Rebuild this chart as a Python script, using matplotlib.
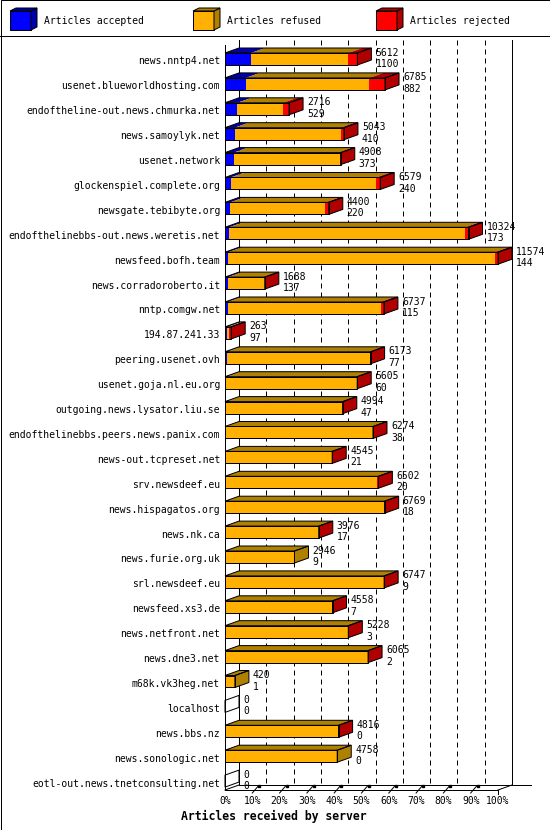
import numpy as np
import matplotlib
matplotlib.use("Agg")
import matplotlib.pyplot as plt
from matplotlib.patches import Polygon, Rectangle

# data
servers = ["news.nntp4.net", "usenet.blueworldhosting.com", "endoftheline-out.news.chmurka.net",
           "news.samoylyk.net", "usenet.network", "glockenspiel.complete.org",
           "newsgate.tebibyte.org", "endofthelinebbs-out.news.weretis.net", "newsfeed.bofh.team",
           "news.corradoroberto.it", "nntp.comgw.net", "194.87.241.33", "peering.usenet.ovh",
           "usenet.goja.nl.eu.org", "outgoing.news.lysator.liu.se",
           "endofthelinebbs.peers.news.panix.com", "news-out.tcpreset.net", "srv.newsdeef.eu",
           "news.hispagatos.org", "news.nk.ca", "news.furie.org.uk", "srl.newsdeef.eu",
           "newsfeed.xs3.de", "news.netfront.net", "news.dne3.net", "m68k.vk3heg.net",
           "localhost", "news.bbs.nz", "news.sonologic.net", "eotl-out.news.tnetconsulting.net"]
offered = [5612, 6785, 2716, 5043, 4908, 6579, 4400, 10324, 11574, 1688, 6737, 263, 6173,
           5605, 4994, 6274, 4545, 6502, 6769, 3976, 2946, 6747, 4558, 5228, 6065, 420, 0,
           4816, 4758, 0]
accepted = [1100, 882, 529, 410, 373, 240, 220, 173, 144, 137, 115, 97, 77, 60, 47, 38, 21,
            20, 18, 17, 9, 9, 7, 3, 2, 1, 0, 0, 0, 0]
rejected = [380, 660, 250, 140, 20, 170, 140, 140, 130, 10, 140, 96, 15, 15, 15, 10, 10, 60,
            10, 10, 0, 10, 5, 5, 5, 0, 0, 5, 0, 0]
refused = [o - a - r for o, a, r in zip(offered, accepted, rejected)]

series = ["Articles accepted", "Articles refused", "Articles rejected"]
front_colors = ["#0000FF", "#FFB000", "#FF0000"]
dark_colors = ["#0000AA", "#B08000", "#B00000"]
pct_ticks = list(range(0, 101, 10))

W, H = 550, 830
PX_PER_PCT = 2.73
ROW_PX = 24.9
ROW0_PX = 59
X0_PX = 225

fig = plt.figure(figsize=(W / 100, H / 100), dpi=100)
ax = fig.add_axes([0, 0, 1, 1])
ax.set_xlim(-X0_PX / PX_PER_PCT, (W - X0_PX) / PX_PER_PCT)
ax.set_ylim((H - ROW0_PX) / ROW_PX, -ROW0_PX / ROW_PX)
ax.axis("off")

lw = 0.72
font = dict(family="DejaVu Sans Mono", size=7, zorder=6)

dx = 14 / PX_PER_PCT       # depth offsets
dy = 5 / ROW_PX
bh = 12 / ROW_PX
front_axis = (790 - ROW0_PX) / ROW_PX
back_bottom = front_axis - dy
top_back = (40 - ROW0_PX) / ROW_PX
top_front = (45 - ROW0_PX) / ROW_PX

# back wall grid
for p in pct_ticks[1:-1]:
    ax.plot([p + dx, p + dx], [top_back, back_bottom], color="black", lw=lw,
            linestyle=(0, (5, 4)), zorder=1)
ax.plot([dx, dx], [top_back, back_bottom], color="black", lw=lw, zorder=1)
ax.plot([100 + dx, 100 + dx], [top_back, back_bottom], color="black", lw=lw, zorder=1)
ax.plot([0, 0], [top_front, front_axis], color="black", lw=lw, zorder=1)
ax.plot([dx, 112], [back_bottom, back_bottom], color="black", lw=lw, zorder=1)
ax.plot([0, 100], [front_axis, front_axis], color="black", lw=lw, zorder=1)
ax.plot([0, dx], [front_axis, back_bottom], color="black", lw=lw, zorder=1)
ax.plot([100, 100 + dx], [front_axis, back_bottom], color="black", lw=lw, zorder=1)

# ticks and tick labels
for p in pct_ticks:
    if 0 < p < 100:
        ax.plot([p, p + 6 / PX_PER_PCT], [front_axis + 3 / ROW_PX, back_bottom + 1 / ROW_PX],
                color="black", lw=lw, zorder=2)
        ax.plot([p + 7 / PX_PER_PCT], [back_bottom + 1 / ROW_PX], marker="s", ms=2,
                color="black", zorder=2)
    elif p == 100:
        ax.plot([p, p], [front_axis, front_axis + 4 / ROW_PX], color="black", lw=lw)
    ax.text(p, (801 - ROW0_PX) / ROW_PX, f"{p}%", ha="center", va="center", **font)

maxval = max(offered)
for i, name in enumerate(servers):
    vals = [accepted[i], refused[i], rejected[i]]
    y0 = i - bh / 2
    y1 = i + bh / 2
    start = 0.0
    last = None
    for k, v in enumerate(vals):
        w = v / maxval * 100
        if w <= 0:
            continue
        a, b = start, start + w
        ax.add_patch(Polygon([(a, y0), (b, y0), (b, y1), (a, y1)], closed=True,
                             facecolor=front_colors[k], edgecolor="none", zorder=3))
        ax.add_patch(Polygon([(a, y0), (b, y0), (b + dx, y0 - dy), (a + dx, y0 - dy)],
                             closed=True, facecolor=dark_colors[k], edgecolor="none", zorder=3))
        start = b
        last = k
    e = start
    side = [(e, y0), (e + dx, y0 - dy), (e + dx, y1 - dy), (e, y1)]
    if last is not None:
        ax.add_patch(Polygon(side, closed=True, facecolor=dark_colors[last],
                             edgecolor="none", zorder=3))
        ax.add_patch(Polygon([(0, y0), (e, y0), (e, y1), (0, y1)], closed=True,
                             fill=False, edgecolor="black", lw=lw, zorder=4))
        ax.add_patch(Polygon([(0, y0), (e, y0), (e + dx, y0 - dy), (dx, y0 - dy)],
                             closed=True, fill=False, edgecolor="black", lw=lw, zorder=4))
    ax.add_patch(Polygon(side, closed=True, fill=False, edgecolor="black", lw=lw, zorder=4))

    ax.text(-5 / PX_PER_PCT, i + 0.1, name, ha="right", va="center", **font)
    tx = e + dx + 4 / PX_PER_PCT
    ax.text(tx, y0 - 0.02, str(offered[i]), ha="left", va="center", **font)
    ax.text(tx, y1 - 0.04, str(accepted[i]), ha="left", va="center", **font)

fig.text(274 / W, 1 - 816 / H, "Articles received by server", ha="center", va="center",
         family="DejaVu Sans Mono", size=8.3, weight="bold")

# legend and frame, in pixel coordinates
lax = fig.add_axes([0, 0, 1, 1], zorder=5)
lax.set_xlim(0, W)
lax.set_ylim(H, 0)
lax.axis("off")
lax.patch.set_alpha(0)
lax.add_patch(Rectangle((0.5, 0.5), W - 1, H - 1, fill=False, edgecolor="black", lw=lw))
lax.plot([0, W], [36.5, 36.5], color="black", lw=lw)
legend_x = [10, 193, 376]
for k, lbl in enumerate(series):
    x = legend_x[k]
    lax.add_patch(Polygon([(x, 11), (x + 21, 11), (x + 21, 30), (x, 30)], closed=True,
                          facecolor=front_colors[k], edgecolor="black", lw=lw))
    lax.add_patch(Polygon([(x + 21, 11), (x + 27, 8), (x + 27, 27), (x + 21, 30)], closed=True,
                          facecolor=dark_colors[k], edgecolor="black", lw=lw))
    lax.add_patch(Polygon([(x, 11), (x + 6, 8), (x + 27, 8), (x + 21, 11)], closed=True,
                          facecolor=dark_colors[k], edgecolor="black", lw=lw))
    lax.text(x + 34, 20.5, lbl, ha="left", va="center", family="DejaVu Sans Mono", size=7)

fig.savefig("out.png", dpi=100, facecolor="white")
